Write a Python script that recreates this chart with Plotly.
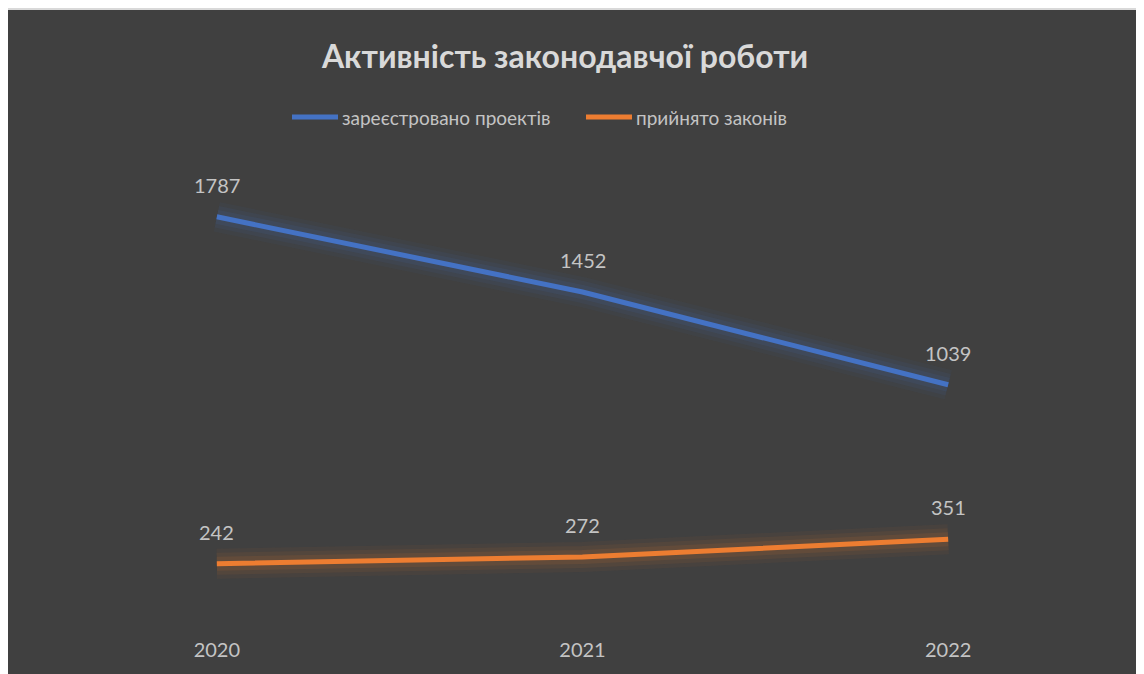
import plotly.graph_objects as go

years = ["2020", "2021", "2022"]
registered = [1787, 1452, 1039]
adopted = [242, 272, 351]
series_names = ["зареєстровано проектів", "прийнято законів"]
title_text = "Активність законодавчої роботи"
colors = ["#4472C4", "#ED7D31"]
glow_rgb = ["68,114,196", "237,125,49"]

W, H = 1144, 674
ML, MR, MT, MB = 26, 21, 161, 64
PW, PH = W - ML - MR, H - MT - MB
FONT = "Lato, Open Sans, sans-serif"


def px_x(p):  # figure pixel -> paper x
    return (p - ML) / PW


def px_y(p):  # figure pixel (from top) -> paper y
    return (H - MB - p) / PH


fig = go.Figure()
series = [registered, adopted]
for vals, rgb in zip(series, glow_rgb):
    for w, a in [(30, 0.05), (22, 0.07), (14, 0.10)]:
        fig.add_trace(go.Scatter(x=years, y=vals, mode="lines",
                                 line=dict(color=f"rgba({rgb},{a})", width=w),
                                 showlegend=False, hoverinfo="skip"))
for vals, name, c in zip(series, series_names, colors):
    fig.add_trace(go.Scatter(x=years, y=vals, mode="lines", name=name,
                             line=dict(color=c, width=5), showlegend=False))

annotations = []
for vals in series:
    for i, v in enumerate(vals):
        annotations.append(dict(x=i, y=v, xref="x", yref="y", text=str(v), showarrow=False,
                                yshift=32, font=dict(size=20, color="#c4c4c4", family=FONT)))
annotations.append(dict(xref="paper", yref="paper", x=px_x(556), y=px_y(47),
                        xanchor="center", yanchor="middle",
                        text=f"<b>{title_text}</b>", showarrow=False,
                        font=dict(size=32, color="#d9d9d9", family=FONT)))

# manual legend
shapes = [dict(type="rect", xref="paper", yref="paper", layer="below",
               x0=px_x(-5), x1=px_x(W + 5), y0=px_y(H + 5), y1=px_y(0),
               fillcolor="#404040", line=dict(width=0)),
          dict(type="rect", xref="paper", yref="paper", layer="below",
               x0=px_x(-5), x1=px_x(W + 5), y0=px_y(2), y1=px_y(0),
               fillcolor="#d9d9d9", line=dict(width=0))]
leg_starts = [284, 578]
leg_y = 109
for x0, name, c in zip(leg_starts, series_names, colors):
    shapes.append(dict(type="line", xref="paper", yref="paper",
                       x0=px_x(x0), x1=px_x(x0 + 46), y0=px_y(leg_y), y1=px_y(leg_y),
                       line=dict(color=c, width=5)))
    annotations.append(dict(xref="paper", yref="paper", x=px_x(x0 + 48), y=px_y(leg_y),
                            xanchor="left", yanchor="middle", text=name, showarrow=False,
                            font=dict(size=19, color="#c4c4c4", family=FONT)))

fig.update_layout(
    width=W, height=H,
    margin=dict(l=ML, r=MR, t=MT, b=MB),
    paper_bgcolor="#404040",
    plot_bgcolor="rgba(0,0,0,0)",
    font=dict(family=FONT, color="#c4c4c4", size=20),
    showlegend=False,
    annotations=annotations,
    shapes=shapes,
    xaxis=dict(type="category", range=[-0.5, 2.5], showgrid=False, zeroline=False,
               showline=False, ticks="outside", ticklen=14, tickcolor="rgba(0,0,0,0)",
               tickfont=dict(size=20, color="#c4c4c4", family=FONT)),
    yaxis=dict(range=[0, 2000], showgrid=False, zeroline=False, showline=False,
               showticklabels=False, ticks=""),
)

fig.write_html("out.html")
